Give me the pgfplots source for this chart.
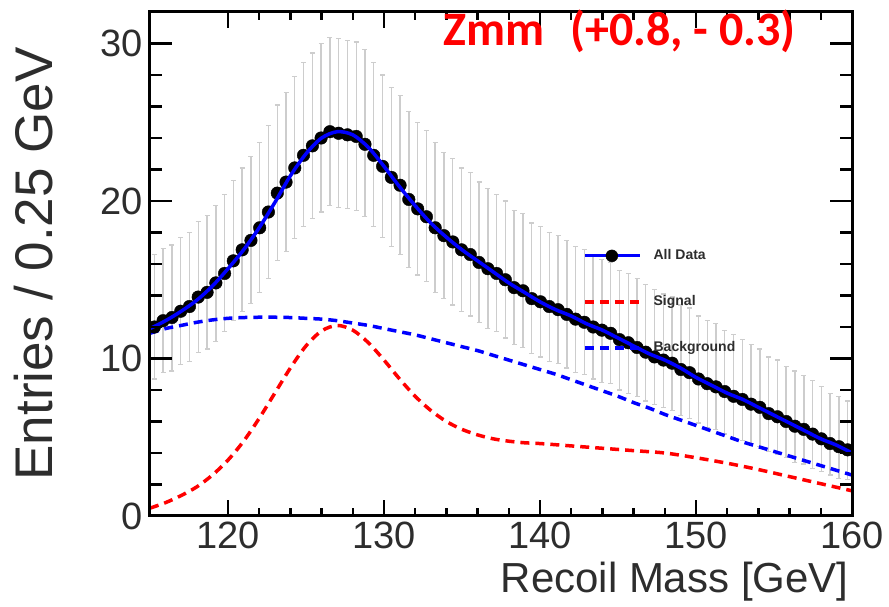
\documentclass[border=0pt]{standalone}
\usepackage{pgfplots}
\usepackage{pgfplotstable}
\pgfplotsset{compat=1.18}
\usepackage{fontspec}
\setmainfont{Liberation Sans}
\newfontfamily\carlito{Carlito}

\pgfplotstableread{
x y ep em
115.28 12.0 4.6 3.3
115.84 12.4 4.6 3.3
116.41 12.6 4.6 3.4
116.97 13.0 4.7 3.4
117.53 13.3 4.7 3.5
118.09 13.9 4.8 3.5
118.66 14.2 4.9 3.6
119.22 14.8 4.9 3.7
119.78 15.4 5.0 3.7
120.34 16.2 5.1 3.8
120.91 16.9 5.2 3.9
121.47 17.5 5.3 4.0
122.03 18.3 5.4 4.1
122.59 19.3 5.5 4.2
123.16 20.5 5.6 4.3
123.72 21.2 5.7 4.4
124.28 22.1 5.8 4.5
124.84 22.9 5.9 4.5
125.41 23.5 5.9 4.6
125.97 24.0 6.0 4.7
126.53 24.4 6.0 4.7
127.09 24.3 6.0 4.7
127.66 24.2 6.0 4.7
128.22 24.1 6.0 4.7
128.78 23.6 6.0 4.6
129.34 22.9 5.9 4.5
129.91 22.2 5.8 4.5
130.47 21.5 5.7 4.4
131.03 21.0 5.7 4.4
131.59 20.1 5.6 4.3
132.16 19.5 5.5 4.2
132.72 19.0 5.5 4.1
133.28 18.3 5.4 4.1
133.84 17.8 5.3 4.0
134.41 17.4 5.3 4.0
134.97 16.9 5.2 3.9
135.53 16.6 5.2 3.9
136.09 16.1 5.1 3.8
136.66 15.7 5.1 3.8
137.22 15.4 5.0 3.7
137.78 15.0 5.0 3.7
138.34 14.5 4.9 3.6
138.91 14.3 4.9 3.6
139.47 13.8 4.8 3.5
140.03 13.6 4.8 3.5
140.59 13.3 4.7 3.5
141.16 13.1 4.7 3.4
141.72 12.8 4.7 3.4
142.28 12.5 4.6 3.4
142.84 12.3 4.6 3.3
143.41 12.0 4.6 3.3
143.97 11.8 4.5 3.3
144.53 11.6 4.5 3.2
145.09 11.2 4.4 3.2
145.66 11.0 4.4 3.2
146.22 10.7 4.4 3.1
146.78 10.4 4.3 3.1
147.34 10.1 4.3 3.0
147.91 9.9 4.2 3.0
148.47 9.7 4.2 3.0
149.03 9.3 4.1 2.9
149.59 9.1 4.1 2.9
150.16 8.7 4.0 2.8
150.72 8.4 4.0 2.8
151.28 8.2 4.0 2.7
151.84 7.9 3.9 2.7
152.41 7.6 3.9 2.6
152.97 7.4 3.8 2.6
153.53 7.1 3.8 2.5
154.09 6.9 3.7 2.5
154.66 6.5 3.6 2.4
155.22 6.3 3.6 2.4
155.78 6.0 3.5 2.3
156.34 5.7 3.5 2.3
156.91 5.5 3.4 2.2
157.47 5.2 3.4 2.2
158.03 4.9 3.3 2.1
158.59 4.6 3.2 2.0
159.16 4.4 3.2 2.0
159.72 4.2 3.1 1.9
}\data

\pgfplotstableread{
x y
115 11.9
116 12.4
117 13.0
118 13.7
119 14.6
120 15.7
121 16.9
122 18.3
123 19.9
124 21.6
125 23.0
126 24.0
127 24.4
128 24.2
129 23.4
130 22.2
131 20.9
132 19.7
133 18.6
134 17.7
135 16.9
136 16.2
137 15.5
138 14.8
139 14.2
140 13.6
141 13.1
142 12.7
143 12.2
144 11.8
145 11.3
146 10.8
147 10.3
148 9.9
149 9.4
150 8.8
151 8.3
152 7.8
153 7.4
154 6.9
155 6.4
156 5.9
157 5.4
158 4.9
159 4.5
160 4.0
}\fit

\pgfplotstableread{
x y
115 0.5
116 0.85
117 1.3
118 1.85
119 2.6
120 3.55
121 4.75
122 6.2
123 7.8
124 9.4
125 10.8
126 11.75
127 12.1
128 11.8
129 11.0
130 9.9
131 8.7
132 7.6
133 6.7
134 6.0
135 5.5
136 5.15
137 4.9
138 4.75
139 4.65
140 4.6
142 4.45
144 4.3
146 4.15
148 4.0
150 3.7
152 3.35
154 2.95
156 2.5
158 2.05
160 1.6
}\signal

\pgfplotstableread{
x y
115 11.6
116 11.9
117 12.1
118 12.3
119 12.45
120 12.55
121 12.6
122 12.62
123 12.62
124 12.6
125 12.55
126 12.5
127 12.4
128 12.25
129 12.1
130 11.9
131 11.7
132 11.5
133 11.25
134 11.0
135 10.75
136 10.5
137 10.2
138 9.9
139 9.6
140 9.3
141 9.0
142 8.65
143 8.3
144 7.95
145 7.6
146 7.2
147 6.85
148 6.45
149 6.1
150 5.75
151 5.4
152 5.05
153 4.7
154 4.4
155 4.1
156 3.8
157 3.5
158 3.2
159 2.9
160 2.6
}\bkg

\definecolor{errgray}{RGB}{205,205,205}
\definecolor{txtgray}{RGB}{45,45,45}

\begin{document}
\begin{tikzpicture}
\useasboundingbox (-150pt,-91pt) rectangle (739pt,516pt);
\begin{axis}[
  at={(0pt,0pt)}, anchor=south west,
  scale only axis,
  width=702pt, height=504pt,
  xmin=115, xmax=160, ymin=0, ymax=32,
  xtick={120,130,140,150,160},
  ytick={0,10,20,30},
  minor x tick num=4,
  minor y tick num=4,
  axis line style={line width=3pt, black},
  tick style={line width=2.5pt, black},
  major tick length=22pt,
  minor tick length=12pt,
  xtick style={/pgfplots/major tick length=16pt, /pgfplots/minor tick length=8pt},
  tick align=inside,
  axis on top,
  /pgf/number format/assume math mode=true,
  tick label style={font=\fontsize{38}{40}\selectfont, text=txtgray},
  yticklabel style={xshift=-4pt},
  xticklabel style={yshift=-2pt},
  every axis x label/.style={at={(axis description cs:1,-0.131)}, anchor=east},
  every axis y label/.style={at={(axis description cs:-0.166,0.5)}, rotate=90, anchor=center},
  xlabel={Recoil Mass [GeV]},
  ylabel={Entries / 0.25 GeV},
  label style={text=txtgray},
  xlabel style={font=\fontsize{42}{46}\selectfont},
  ylabel style={font=\fontsize{53}{56}\selectfont},
  legend style={at={(axis description cs:0.617,0.53)}, anchor=north west,
    draw=none, fill=none, inner sep=0pt, outer sep=0pt,
    row sep=32pt, column sep=12pt,
    nodes={inner sep=0pt, text height=11pt, text depth=3pt, text=txtgray},
    font=\bfseries\fontsize{14}{16}\selectfont},
  legend cell align=left,
  legend image code/.code={\draw[#1] (0pt,0pt) -- (55pt,0pt);},
  clip=true,
  clip marker paths=true,
]
\addlegendimage{legend image code/.code={\draw[blue, line width=3pt] (0pt,0pt) -- (55pt,0pt); \fill[black] (27pt,0pt) circle (6pt);}}
\addlegendentry{All Data}

\addplot[only marks, mark=none, forget plot,
  error bars/.cd, y dir=both, y explicit,
  error bar style={color=errgray, line width=1.4pt},
  error mark options={rotate=90, mark size=2.5pt, color=errgray, line width=1.2pt}]
  table[x=x, y=y, y error plus=ep, y error minus=em] {\data};

\addplot[red, line width=3.5pt, dash pattern=on 9pt off 6pt, smooth] table {\signal};
\addlegendentry{Signal}
\addplot[blue, line width=3.5pt, dash pattern=on 9pt off 6pt, smooth] table {\bkg};
\addlegendentry{Background}

\addplot[only marks, mark=*, mark size=6.3pt, black, forget plot] table[x=x, y=y] {\data};
\addplot[blue, line width=3.5pt, smooth, forget plot] table {\fit};
\end{axis}
\node[anchor=base west, text=red, font=\carlito\bfseries\fontsize{48}{50}\selectfont, inner sep=0pt] at (293pt,470pt) {Zmm\hspace{26pt}(+0.8, - 0.3)};
\end{tikzpicture}
\end{document}
